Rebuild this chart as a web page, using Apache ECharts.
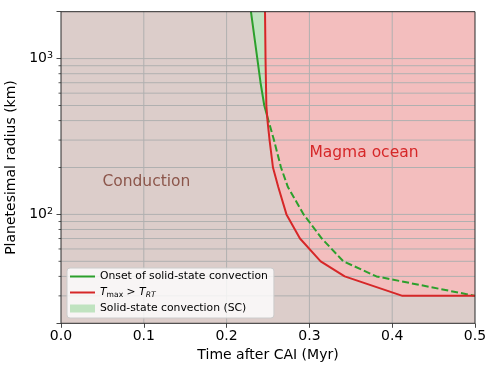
<!DOCTYPE html>
<html><head><meta charset="utf-8">
<script src="https://cdn.jsdelivr.net/npm/echarts@6/dist/echarts.min.js"></script>
<style>html,body{margin:0;padding:0;background:#fff}#c{width:498px;height:374px}</style>
</head><body><div id="c"></div>
<script>
// ---- data ----
const xTicks = [0, 0.1, 0.2, 0.3, 0.4, 0.5];
const yMajorExps = [2, 3];
const yGridValues = [30, 40, 50, 60, 70, 80, 90, 100, 200, 300, 400, 500, 600, 700, 800, 900, 1000];
const X_MIN = 0, X_MAX = 0.5, Y_MIN = 20, Y_MAX = 2000;

// T_max > T_RT (red)
const redRadius = [2000, 1000, 500, 400, 300, 200, 150, 100, 70, 50, 40, 30, 30];
const redTime   = [0.2464, 0.2470, 0.2480, 0.2494, 0.2519, 0.2560, 0.2624, 0.2723, 0.2886, 0.3136, 0.3426, 0.4124, 0.5];
// onset of solid-state convection (green), solid part
const greenSolidRadius = [2000, 1000, 700, 500, 430];
const greenSolidTime   = [0.2294, 0.2371, 0.2410, 0.2455, 0.2489];
// onset of solid-state convection (green), dashed part
const greenDashRadius = [430, 300, 200, 150, 100, 70, 50, 40, 30];
const greenDashTime   = [0.2489, 0.2572, 0.2657, 0.2740, 0.2930, 0.3150, 0.3410, 0.3810, 0.5];

const labelConduction = 'Conduction';
const labelMagma = 'Magma ocean';
const nameOnset = 'Onset of solid-state convection';
const nameTmax = 'Tmax';
const nameSC = 'Solid-state convection (SC)';

// ---- build ----
const zip = (ts, rs) => ts.map((t, i) => [t, rs[i]]);
const redPts = zip(redTime, redRadius);
const gSolidPts = zip(greenSolidTime, greenSolidRadius);
const gDashPts = zip(greenDashTime, greenDashRadius);
const crossR = greenSolidRadius[greenSolidRadius.length - 1];

const FONT = 'DejaVu Sans';
const C_COND = '#dccdca', C_MAGMA = '#f3bebe', C_SC = '#c0e3c0';
const C_GREEN = '#2ca02c', C_RED = '#d62728', C_BROWN = '#8c564b';

function bgRender(params, api) {
  const P = p => api.coord(p);
  const a = P([X_MIN, Y_MAX]), b = P([X_MAX, Y_MIN]);
  const magma = redPts.map(P).concat([P([X_MAX, Y_MAX])]);
  return { type: 'group', children: [
    { type: 'rect', shape: { x: a[0], y: a[1], width: b[0] - a[0], height: b[1] - a[1] }, style: { fill: C_COND } },
    { type: 'polygon', shape: { points: magma }, style: { fill: C_MAGMA } }
  ]};
}
function bandRender(params, api) {
  const P = p => api.coord(p);
  const upperRed = redPts.filter(p => p[1] > crossR).reverse();
  const pts = gSolidPts.concat(upperRed).map(P);
  return { type: 'polygon', shape: { points: pts }, style: { fill: C_SC } };
}
function gridRender(params, api) {
  const P = p => api.coord(p);
  const a = P([X_MIN, Y_MAX]), b = P([X_MAX, Y_MIN]);
  const ch = [];
  xTicks.forEach(t => {
    if (t <= X_MIN || t >= X_MAX) return;
    const x = P([t, Y_MIN])[0];
    ch.push({ type: 'line', shape: { x1: x, y1: a[1], x2: x, y2: b[1] }, style: { stroke: '#b0b0b0', lineWidth: 1 } });
  });
  yGridValues.forEach(v => {
    const y = P([X_MIN, v])[1];
    ch.push({ type: 'line', shape: { x1: a[0], y1: y, x2: b[0], y2: y }, style: { stroke: '#b0b0b0', lineWidth: 1 } });
    const e = Math.log10(v);
    if (Math.abs(e - Math.round(e)) > 1e-9) {
      ch.push({ type: 'line', shape: { x1: a[0] - 2.5, y1: y, x2: a[0], y2: y }, style: { stroke: '#333', lineWidth: 0.8 } });
    }
  });
  return { type: 'group', children: ch };
}
function frameRender(params, api) {
  const P = p => api.coord(p);
  const a = P([X_MIN, Y_MAX]), b = P([X_MAX, Y_MIN]);
  const c = P([0.05, 150]), m = P([0.3, 230]);
  return { type: 'group', children: [
    { type: 'text', x: c[0], y: c[1] + 2.8, style: { text: labelConduction, fill: C_BROWN, font: '15.5px "DejaVu Sans"', align: 'left', verticalAlign: 'bottom' } },
    { type: 'text', x: m[0], y: m[1] + 2.8, style: { text: labelMagma, fill: C_RED, font: '15.5px "DejaVu Sans"', align: 'left', verticalAlign: 'bottom' } },
    { type: 'rect', shape: { x: a[0], y: a[1], width: b[0] - a[0], height: b[1] - a[1] }, style: { fill: null, stroke: '#2a2a2a', lineWidth: 1 } }
  ]};
}

const anchor = [[0.25, 100]];
const linePath = 'path://M0,0H25V2H0Z';

const option = {
  animation: false,
  grid: { left: 61, right: 23, top: 11.7, bottom: 50.7, containLabel: false, outerBoundsMode: 'none' },
  xAxis: {
    type: 'value', min: X_MIN, max: X_MAX, interval: 0.1,
    axisLine: { show: false },
    axisTick: { show: true, length: 4.5, lineStyle: { color: '#333', width: 0.9 } },
    splitLine: { show: false },
    axisLabel: { formatter: v => v.toFixed(1), margin: 6, fontSize: 14, fontFamily: FONT, color: '#000' },
    name: 'Time after CAI (Myr)', nameLocation: 'middle', nameGap: 22,
    nameTextStyle: { fontSize: 14, fontFamily: FONT, color: '#000' }
  },
  yAxis: {
    type: 'log', logBase: 10, min: Y_MIN, max: Y_MAX,
    axisLine: { show: false },
    axisTick: { show: true, length: 4.5, lineStyle: { color: '#333', width: 0.9 } },
    splitLine: { show: false },
    axisLabel: {
      margin: 8, fontFamily: FONT, color: '#000',
      formatter: v => {
        const e = Math.round(Math.log10(v));
        if (Math.abs(Math.log10(v) - e) < 1e-6 && yMajorExps.includes(e)) return '{b|10}{s|' + e + '}';
        return '';
      },
      rich: {
        b: { fontSize: 14, fontFamily: FONT, lineHeight: 16, color: '#000' },
        s: { fontSize: 9.5, fontFamily: FONT, lineHeight: 8, verticalAlign: 'top', color: '#000' }
      }
    },
    name: 'Planetesimal radius (km)', nameLocation: 'middle', nameGap: 35,
    nameTextStyle: { fontSize: 14, fontFamily: FONT, color: '#000' }
  },
  legend: {
    left: 67, top: 268, orient: 'vertical', selectedMode: false,
    itemWidth: 25, itemHeight: 8, itemGap: 3, padding: [2, 6, 3, 3],
    backgroundColor: 'rgba(255,255,255,0.8)', borderColor: '#cccccc', borderWidth: 1, borderRadius: 3,
    data: [
      { name: nameOnset, icon: linePath },
      { name: nameTmax, icon: linePath },
      { name: nameSC, icon: 'rect' }
    ],
    formatter: n => n === nameTmax ? '{it|T}{sub|max}{n| > }{it|T}{subi|RT}' : n,
    textStyle: {
      fontFamily: FONT, fontSize: 10.8, color: '#000', lineHeight: 13,
      rich: {
        it: { fontStyle: 'italic', fontFamily: FONT, fontSize: 10.8, lineHeight: 13, color: '#000' },
        n: { fontFamily: FONT, fontSize: 10.8, lineHeight: 13, color: '#000' },
        sub: { fontFamily: FONT, fontSize: 7.6, lineHeight: 8, verticalAlign: 'bottom', color: '#000' },
        subi: { fontFamily: FONT, fontStyle: 'italic', fontSize: 7.6, lineHeight: 8, verticalAlign: 'bottom', color: '#000' }
      }
    }
  },
  series: [
    { type: 'custom', name: 'bg', data: anchor, renderItem: bgRender, silent: true, z: 1 },
    { type: 'custom', name: nameSC, data: anchor, renderItem: bandRender, silent: true, z: 1, itemStyle: { color: C_SC } },
    { type: 'custom', name: 'grid', data: anchor, renderItem: gridRender, silent: true, z: 1 },
    { type: 'line', name: nameOnset, data: gSolidPts, showSymbol: false, symbol: 'none', color: C_GREEN,
      lineStyle: { color: C_GREEN, width: 2 }, z: 2 },
    { type: 'line', name: nameOnset, data: gDashPts, showSymbol: false, symbol: 'none', color: C_GREEN,
      lineStyle: { color: C_GREEN, width: 2, type: [7, 3] }, z: 2 },
    { type: 'line', name: nameTmax, data: redPts, showSymbol: false, symbol: 'none', color: C_RED,
      lineStyle: { color: C_RED, width: 2 }, z: 2 },
    { type: 'custom', name: 'frame', data: anchor, renderItem: frameRender, silent: true, z: 3 }
  ]
};
const chart = echarts.init(document.getElementById('c'));
chart.setOption(option);
</script>
</body></html>
